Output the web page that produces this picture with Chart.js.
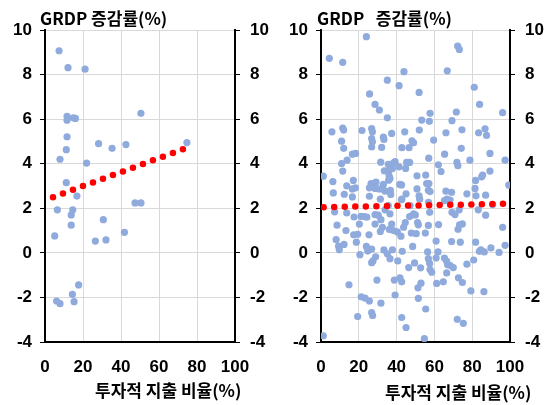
<!DOCTYPE html>
<html>
<head>
<meta charset="utf-8">
<script src="https://cdn.jsdelivr.net/npm/chart.js@4/dist/chart.umd.min.js"></script>
<style>
  body { margin: 0; background: #fff; }
  #wrap { position: relative; width: 551px; height: 405px; overflow: hidden; }
  canvas { position: absolute; top: 0; }
  .lbl {
    position: absolute; white-space: pre; color: #000;
    font: bold 17px "Noto Sans CJK KR", "Noto Sans", sans-serif; line-height: 20px;
  }
</style>
</head>
<body>
<div id="wrap">
  <canvas id="leftChart" width="275" height="405" style="left:0"></canvas>
  <canvas id="rightChart" width="276" height="405" style="left:275px"></canvas>
  <span class="lbl" style="left:40px;top:8px">GRDP 증감률(%)</span>
  <span class="lbl" style="left:317px;top:8px">GRDP   증감률(%)</span>
  <span class="lbl" style="left:95px;top:380px">투자적 지출 비율(%)</span>
  <span class="lbl" style="left:385px;top:382px">투자적 지출 비율(%)</span>
</div>
<script>
// ── Values ─────────────────────────────────────────────
const yTicks = [-4, -2, 0, 2, 4, 6, 8, 10];
const xTicks = [0, 20, 40, 60, 80, 100];

// left panel: spending ratio (%) vs GRDP growth (%)
const leftSpend  = [7.4, 12.1, 21.1, 11.6, 11.6, 14.9, 16.0, 50.5, 11.6, 11.2, 7.9, 28.2, 35.3, 42.6, 74.7, 21.9, 11.2, 16.8,
                    6.5, 14.6, 13.8, 13.8, 5.1, 47.4, 50.5, 30.7, 41.8, 26.5, 32.1, 17.7, 14.4, 15.3, 6.1, 7.9];
const leftGrowth = [9.07, 8.31, 8.24, 6.13, 5.95, 6.06, 6.03, 6.26, 5.21, 4.63, 4.2, 4.9, 4.69, 4.86, 4.95, 4.03, 3.15, 2.55,
                    1.93, 1.93, 1.7, 1.24, 0.76, 2.24, 2.24, 1.49, 0.92, 0.53, 0.58, -1.44, -1.86, -2.19, -2.16, -2.28];
const leftTrendX = [4.2, 73];
const leftTrendY = [2.5, 4.66];

// right panel
const rightSpend = [
  1.2, 4.4, 11.5, 24.0, 5.8, 11.5, 12.0, 10.9, 12.0, 16.6, 18.3, 13.8, 10.9, 11.5, 6.3, 17.1, 13.6, 18.2, 16.6, 6.5,
  12.3, 16.6, 21.7, 25.7, 28.6, 30.9, 35.1, 35.1, 41.3, 43.9, 51.9, 26.8, 27.2, 26.8, 27.2, 26.8, 33.0, 33.3, 37.4, 32.1,
  44.3, 48.1, 49.0, 42.8, 46.6, 31.6, 35.6, 38.4, 39.2, 37.8, 36.2, 33.5, 41.3, 45.3, 46.9, 44.8, 36.0, 35.8, 36.5, 50.8,
  55.4, 53.3, 57.3, 57.7, 59.6, 52.0, 57.0, 26.5, 29.1, 25.6, 28.6, 30.7, 33.0, 32.6, 33.9, 36.7, 41.7, 42.6, 36.9, 31.4,
  25.6, 45.0, 42.5, 50.8, 51.9, 55.9, 57.1, 56.8, 57.7, 62.1, 63.5, 65.4, 66.1, 66.8, 69.3, 71.6, 72.3, 73.2, 74.6, 74.2,
  71.9, 72.4, 78.8, 81.1, 83.9, 83.4, 86.8, 87.6, 89.4, 89.4, 85.5, 85.0, 81.8, 81.5, 77.2, 87.1, 96.1, 97.4, 99.3, 66.1,
  69.1, 66.6, 52.2, 42.8,
  1.2, 7.2, 13.6, 17.5, 8.5, 13.2, 8.0, 9.3, 9.7, 12.2, 17.3, 19.4, 18.7, 20.3, 21.2, 22.8, 24.2, 20.6, 25.4, 24.0,
  24.7, 26.8, 28.6, 30.3, 28.6, 31.7, 32.5, 31.4, 28.9, 27.5, 26.8, 29.6, 14.8, 21.3, 23.3, 25.6, 19.4, 26.8, 27.3, 31.7,
  33.3, 35.1, 36.5, 37.8, 35.6, 33.9, 36.5, 37.4, 36.2, 38.3, 40.4, 40.6, 38.8, 41.8, 42.7, 39.2, 43.0, 42.3, 43.7, 44.6,
  42.7, 45.0, 46.4, 47.8, 48.5, 49.5, 46.9, 49.0, 49.9, 47.1, 50.4, 51.1, 51.5, 52.7, 51.3, 51.5, 52.9, 55.4, 54.7, 55.2,
  56.8, 56.4, 56.8, 57.5, 57.7, 58.6, 60.9, 61.9, 61.2, 62.2, 60.9, 56.9, 57.5, 65.3, 66.5, 67.0, 68.4, 70.0, 64.7, 66.5,
  69.1, 69.3, 70.9, 72.5, 73.3, 73.7, 74.8, 72.7, 74.8, 72.1, 75.3, 77.2, 79.3, 80.8, 81.8, 83.2, 83.8, 84.6, 86.4, 87.1,
  86.2, 89.9, 90.8, 94.2, 96.1, 97.4, 82.0, 65.3, 68.3, 73.1
];
const rightGrowth = [
  3.44, 8.73, 8.55, 9.70, 5.43, 5.60, 5.51, 5.01, 4.69, 4.43, 4.46, 4.16, 4.01, 3.67, 3.20, 3.25, 3.01, 2.92, 2.87, 2.69,
  2.63, 2.51, 5.49, 7.13, 6.66, 6.41, 7.75, 6.06, 7.50, 8.13, 7.20, 5.58, 5.43, 5.13, 4.98, 4.75, 5.19, 5.09, 5.36, 4.73,
  5.43, 5.03, 4.94, 4.72, 4.72, 4.07, 3.97, 4.04, 4.09, 3.79, 3.71, 3.68, 3.86, 4.06, 4.06, 3.79, 3.46, 3.26, 3.34, 3.46,
  3.49, 5.96, 5.90, 6.26, 5.06, 5.51, 4.25, 3.11, 3.17, 2.92, 2.89, 2.87, 3.07, 2.87, 2.77, 2.81, 3.07, 3.05, 2.62, 2.41,
  2.54, 2.65, 2.38, 2.87, 2.56, 3.11, 3.11, 2.81, 2.75, 3.95, 3.65, 4.43, 5.39, 8.17, 5.93, 6.32, 9.28, 9.13, 5.52, 4.69,
  4.06, 3.91, 4.16, 7.43, 6.66, 5.39, 5.57, 5.27, 4.46, 3.67, 3.49, 3.41, 3.25, 2.89, 2.65, 2.59, 6.29, 4.16, 3.04, 2.77,
  2.72, 2.41, 2.41, 2.41,
  -3.72, 1.84, 1.79, 1.61, 1.24, 1.00, 0.59, 0.30, 0.14, 0.38, 0.81, 0.83, 0.48, 1.29, 1.64, 1.63, 1.60, -0.08, 0.81, 0.29,
  0.08, 0.17, 1.72, 1.69, 1.29, 1.49, 1.15, 0.96, -0.18, -0.36, -0.44, -1.22, -1.43, -1.97, -2.03, -2.16, -2.86, -2.68, -2.81, -2.26,
  0.13, -0.04, -0.26, 0.14, 2.12, 1.93, 1.75, 1.29, 1.05, 1.00, 0.94, -0.36, -1.22, -1.12, -1.30, -1.89, 0.07, 0.75, 1.15, 1.36,
  -2.90, -3.35, -0.66, 0.89, 0.29, -0.45, 1.63, 1.75, 1.70, 2.12, 0.86, 1.36, 1.26, -0.67, -1.57, -2.04, -1.36, -2.52, -3.85, 0.89,
  1.23, 0.04, -0.26, -0.48, -0.75, -0.87, -0.23, 0.04, -1.37, 1.27, 0.53, 2.27, 1.82, -0.23, -0.38, -0.53, -0.57, -0.66, -1.30, -0.90,
  0.51, 1.82, 1.72, 1.06, 1.26, 0.48, 1.30, -1.12, -1.33, -2.98, -3.16, -0.51, -1.71, -0.32, 0.48, 1.93, 0.07, 0.14, 0.04, 1.69,
  -1.74, 0.22, 2.16, 0.02, 1.15, 0.34, 2.56, 2.34, 2.37, 1.93
];
const rightTrendX = [1.4, 96.8];
const rightTrendY = [2.05, 2.2];

// ── Shared styling ─────────────────────────────────────
const tickFont = { family: '"Liberation Sans", Arial, sans-serif', size: 17, weight: 'bold' };
const gridGrey = '#d9d9d9';

const pts = (xs, ys) => xs.map((x, i) => ({ x, y: ys[i] }));

function makePanel(id, xs, ys, tx, ty, leftW, rightW, dotGap) {
  new Chart(document.getElementById(id), {
    type: 'scatter',
    data: {
      datasets: [
        {
          // dotted red trend line
          type: 'line',
          data: pts(tx, ty),
          borderColor: '#ff0000',
          borderWidth: 6.5,
          borderDash: [0, dotGap],
          borderCapStyle: 'round',
          pointRadius: 0,
          fill: false,
          order: 0
        },
        {
          data: pts(xs, ys),
          backgroundColor: '#8faadc',
          borderWidth: 0,
          pointRadius: 3.6,
          order: 1
        }
      ]
    },
    options: {
      responsive: false,
      animation: false,
      layout: { padding: { top: 30, left: 0, right: 0, bottom: 0 } },
      plugins: { legend: { display: false }, tooltip: { enabled: false } },
      scales: {
        x: {
          type: 'linear', min: 0, max: 100,
          afterBuildTicks: s => { s.ticks = xTicks.map(v => ({ value: v })); },
          afterFit: s => { s.height = 63; },
          ticks: { color: '#000', font: tickFont, padding: 15, maxRotation: 0 },
          grid: { color: gridGrey, lineWidth: 1, drawTicks: false },
          border: { color: '#000', width: 2 }
        },
        y: {
          position: 'left', min: -4, max: 10,
          afterBuildTicks: s => { s.ticks = yTicks.map(v => ({ value: v })); },
          afterFit: s => { s.width = leftW; },
          ticks: { color: '#000', font: tickFont, padding: 8 },
          grid: { color: gridGrey, lineWidth: 1, tickColor: '#000', tickLength: 5 },
          border: { color: '#000', width: 2 }
        },
        y2: {
          position: 'right', min: -4, max: 10,
          afterBuildTicks: s => { s.ticks = yTicks.map(v => ({ value: v })); },
          afterFit: s => { s.width = rightW; },
          ticks: { color: '#000', font: tickFont, padding: 10 },
          grid: { drawOnChartArea: false, tickColor: '#000', tickLength: 5 },
          border: { color: '#000', width: 2 }
        }
      }
    }
  });
}

makePanel('leftChart', leftSpend, leftGrowth, leftTrendX, leftTrendY, 45, 40, 10.65);
makePanel('rightChart', rightSpend, rightGrowth, rightTrendX, rightTrendY, 46, 41, 10.55);
</script>
</body>
</html>
